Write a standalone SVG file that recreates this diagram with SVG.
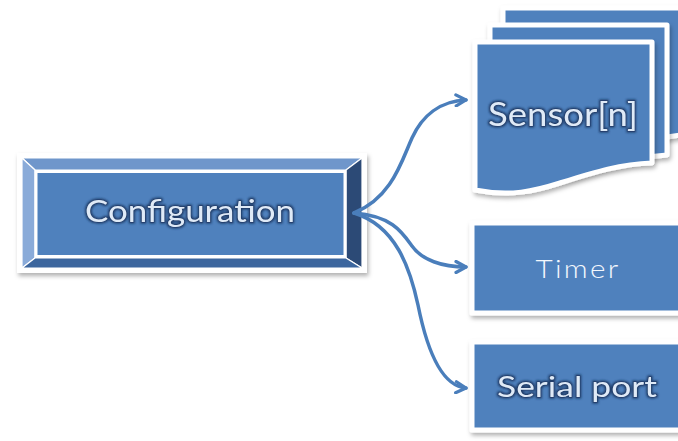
<svg xmlns="http://www.w3.org/2000/svg" width="678" height="441" viewBox="0 0 678 441">
  <defs>
    <filter id="shadow" x="-10%" y="-10%" width="125%" height="130%">
      <feDropShadow dx="1.5" dy="3" stdDeviation="2" flood-color="#000" flood-opacity="0.3"/>
    </filter>
    <filter id="glow" x="-10%" y="-30%" width="120%" height="160%">
      <feMorphology in="SourceAlpha" operator="dilate" radius="1.2" result="thick"/>
      <feGaussianBlur in="thick" stdDeviation="1" result="soft"/>
      <feFlood flood-color="#1a3560" flood-opacity="0.9"/>
      <feComposite in2="soft" operator="in" result="halo"/>
      <feMerge><feMergeNode in="halo"/><feMergeNode in="SourceGraphic"/></feMerge>
    </filter>
    <marker id="arrow" viewBox="0 0 14 14" refX="12" refY="7" markerWidth="14" markerHeight="14" markerUnits="userSpaceOnUse" orient="auto">
      <path d="M2,1.5 L12,7 L2,12.5" fill="none" stroke="#4a7ebb" stroke-width="3.2" stroke-linecap="round" stroke-linejoin="round"/>
    </marker>
  </defs>
  <style>
    .face { fill: #4f81bd; }
    .card { fill: #4f81bd; stroke: #ffffff; stroke-width: 5; stroke-linejoin: round; }
    .bevel { stroke: #ffffff; stroke-width: 1.2; stroke-linejoin: round; }
    .label { font-family: Lato, "Open Sans", "Liberation Sans", sans-serif; fill: #dfeaf7; text-anchor: middle; }
    .outlined { stroke: #1f3a66; stroke-width: 0.8; paint-order: stroke; filter: url(#glow); }
    .plain { fill: #f4f8fd; font-weight: 300; letter-spacing: 2px; }
    .link { fill: none; stroke: #4a7ebb; stroke-width: 3.5; stroke-linecap: round; marker-end: url(#arrow); }
  </style>

  <rect width="678" height="441" fill="#ffffff"/>

  <!-- Bevelled configuration block -->
  <g id="configuration">
    <rect x="17" y="153" width="350" height="120" fill="#ffffff" filter="url(#shadow)"/>
    <polygon class="bevel" points="22,158 362,158 346,170 35,170" fill="#6f96cb"/>
    <polygon class="bevel" points="22,158 35,170 35,258 22,268" fill="#8aabd9"/>
    <polygon class="bevel" points="362,158 362,268 346,258 346,170" fill="#2c4a76"/>
    <polygon class="bevel" points="22,268 35,258 346,258 362,268" fill="#3c669e"/>
    <rect x="36" y="171.5" width="309" height="85" class="face" stroke="#ffffff" stroke-width="3"/>
    <text class="label outlined" x="190" y="222" font-size="30" textLength="210" lengthAdjust="spacingAndGlyphs">Configuration</text>
  </g>

  <!-- Stack of sensor documents -->
  <g id="sensor">
    <path class="card" filter="url(#shadow)" d="M503,8 H700 V133 C670,135 640,142 615,150 C590,158 560,164 503,160 Z"/>
    <path class="card" filter="url(#shadow)" d="M490,25 H667 V155 C637,157 607,164 582,172 C557,180 530,184 490,180 Z"/>
    <path class="card" filter="url(#shadow)" d="M475,42 H652 V163 C620,164 595,172 560,183 C535,191 510,197 475,190 Z"/>
    <text class="label outlined" x="563" y="126" font-size="32" textLength="150" lengthAdjust="spacingAndGlyphs">Sensor[n]</text>
  </g>

  <g id="timer">
    <rect class="card" filter="url(#shadow)" x="472" y="223" width="230" height="90"/>
    <text class="label plain" x="578" y="278" font-size="26" textLength="85" lengthAdjust="spacingAndGlyphs">Timer</text>
  </g>

  <g id="serial-port">
    <rect class="card" filter="url(#shadow)" x="472" y="342" width="230" height="88"/>
    <text class="label outlined" x="577" y="397" font-size="29" textLength="160" lengthAdjust="spacingAndGlyphs">Serial port</text>
  </g>

  <!-- Connectors -->
  <g id="connectors">
    <path class="link" d="M354,213 C392,198 402,160 412,138 C422,116 440,101 466,100"/>
    <path class="link" d="M354,213 C392,216 402,232 412,246 C422,260 442,267 466,267"/>
    <path class="link" d="M354,213 C396,226 410,268 418,305 C426,345 440,386 466,388"/>
  </g>
</svg>
